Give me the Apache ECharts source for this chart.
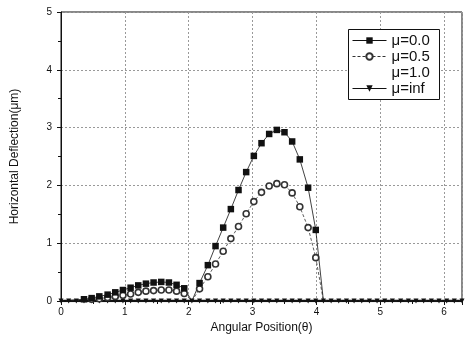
<!DOCTYPE html>
<html>
<head>
<meta charset="utf-8">
<script src="https://cdn.jsdelivr.net/npm/echarts@6/dist/echarts.min.js"></script>
<style>
  html, body { margin: 0; padding: 0; background: #fff; }
  #chart { width: 465px; height: 343px; }
</style>
</head>
<body>
<div id="chart"></div>
<script>
// angular positions (rad)
const theta = [0, 0.12, 0.24, 0.36, 0.48, 0.60, 0.73, 0.85, 0.97, 1.09, 1.21, 1.33, 1.45, 1.57, 1.69, 1.81, 1.93,
  2.05, 2.17, 2.30, 2.42, 2.54, 2.66, 2.78, 2.90, 3.02, 3.14, 3.26, 3.38, 3.50, 3.62, 3.74, 3.87, 3.99,
  4.11, 4.23, 4.35, 4.47, 4.59, 4.71, 4.83, 4.95, 5.07, 5.19, 5.32, 5.44, 5.56, 5.68, 5.80, 5.92, 6.04, 6.16, 6.28]

const mu00 = [0, 0.01, 0.02, 0.03, 0.05, 0.08, 0.11, 0.15, 0.19, 0.23, 0.27, 0.30, 0.32, 0.33, 0.32, 0.28, 0.22,
  0, 0.31, 0.62, 0.95, 1.27, 1.59, 1.92, 2.23, 2.51, 2.73, 2.89, 2.96, 2.92, 2.76, 2.45, 1.96, 1.23,
  0, 0, 0, 0, 0, 0, 0, 0, 0, 0, 0, 0, 0, 0, 0, 0, 0, 0, 0]

const mu05 = [0, 0.005, 0.01, 0.02, 0.03, 0.04, 0.06, 0.08, 0.10, 0.12, 0.15, 0.17, 0.18, 0.19, 0.19, 0.17, 0.13,
  0, 0.21, 0.42, 0.64, 0.86, 1.08, 1.29, 1.51, 1.72, 1.88, 1.99, 2.03, 2.01, 1.87, 1.63, 1.27, 0.75,
  0, 0, 0, 0, 0, 0, 0, 0, 0, 0, 0, 0, 0, 0, 0, 0, 0, 0, 0]

const mu10 = theta.map(() => 0)
const muInf = theta.map(() => 0)

const legendNames = ['\u03bc=0.0', '\u03bc=0.5', '\u03bc=1.0', '\u03bc=inf']

// markers sitting on the axis disappear into the thick zero line
function pairs(vals, hideZero) {
  return theta.map((t, i) => {
    const item = { value: [t, vals[i]] }
    if (hideZero && vals[i] <= 0.02) item.symbol = 'none'
    return item
  })
}

const chart = echarts.init(document.getElementById('chart'))

const font = 'Liberation Sans, Arial, sans-serif'

chart.setOption({
  backgroundColor: '#fff',
  animation: false,
  textStyle: { fontFamily: font },
  grid: {
    left: 61, right: -1, top: 12, bottom: 42,
    show: true, borderColor: '#111', borderWidth: 1
  },
  // legend frame
  graphic: [{
    type: 'rect', z: 5,
    shape: { x: 348.5, y: 29.5, width: 91, height: 70 },
    style: { fill: '#fff', stroke: '#111', lineWidth: 1 }
  }],
  legend: {
    orient: 'vertical',
    left: 349, top: 31, z: 10,
    padding: [2, 4, 2, 3],
    itemWidth: 34, itemHeight: 8, itemGap: 1,
    lineStyle: { width: 1 },
    textStyle: { fontSize: 15, color: '#111', fontFamily: font },
    data: [
      { name: legendNames[0] },
      { name: legendNames[1] },
      { name: legendNames[2], itemStyle: { opacity: 0 }, lineStyle: { opacity: 0 } },
      { name: legendNames[3] }
    ]
  },
  xAxis: {
    type: 'value', min: 0, max: 6.28, interval: 1,
    name: 'Angular Position(\u03b8)', nameLocation: 'middle', nameGap: 20,
    nameTextStyle: { fontSize: 12, color: '#111' },
    axisLine: { lineStyle: { color: '#111' } },
    axisTick: { length: 4, lineStyle: { color: '#111' } },
    minorTick: { show: true, splitNumber: 2, length: 3, lineStyle: { color: '#111' } },
    axisLabel: {
      fontSize: 10, color: '#111', margin: 6,
      formatter: v => Number.isInteger(v) ? String(v) : ''
    },
    splitLine: { show: true, lineStyle: { color: '#999', type: [2, 2], width: 1 } }
  },
  yAxis: {
    type: 'value', min: 0, max: 5, interval: 1,
    name: 'Horizontal Deflection(\u03bcm)', nameLocation: 'middle', nameGap: 40,
    nameTextStyle: { fontSize: 12, color: '#111' },
    axisLine: { show: true, lineStyle: { color: '#111' } },
    axisTick: { show: true, length: 4, lineStyle: { color: '#111' } },
    minorTick: { show: true, splitNumber: 2, length: 3, lineStyle: { color: '#111' } },
    axisLabel: { fontSize: 10, color: '#111', margin: 9 },
    splitLine: { show: true, lineStyle: { color: '#999', type: [2, 2], width: 1 } }
  },
  series: [
    {
      name: legendNames[3], type: 'line', data: pairs(muInf, false),
      symbol: 'triangle', symbolRotate: 180, symbolSize: 5,
      itemStyle: { color: '#111' }, lineStyle: { color: '#111', width: 1 }
    },
    {
      name: legendNames[2], type: 'line', data: pairs(mu10, false),
      symbol: 'none', itemStyle: { color: '#111' }, lineStyle: { color: '#111', width: 2.5 }
    },
    {
      name: legendNames[1], type: 'line', data: pairs(mu05, true),
      symbol: 'circle', symbolSize: 6,
      itemStyle: { color: '#fff', borderColor: '#333', borderWidth: 1.6 },
      lineStyle: { color: '#333', width: 0.8, type: [3, 2] }
    },
    {
      name: legendNames[0], type: 'line', data: pairs(mu00, true),
      symbol: 'rect', symbolSize: 6.5,
      itemStyle: { color: '#111' },
      lineStyle: { color: '#111', width: 0.8 }
    }
  ]
})
</script>
</body>
</html>
